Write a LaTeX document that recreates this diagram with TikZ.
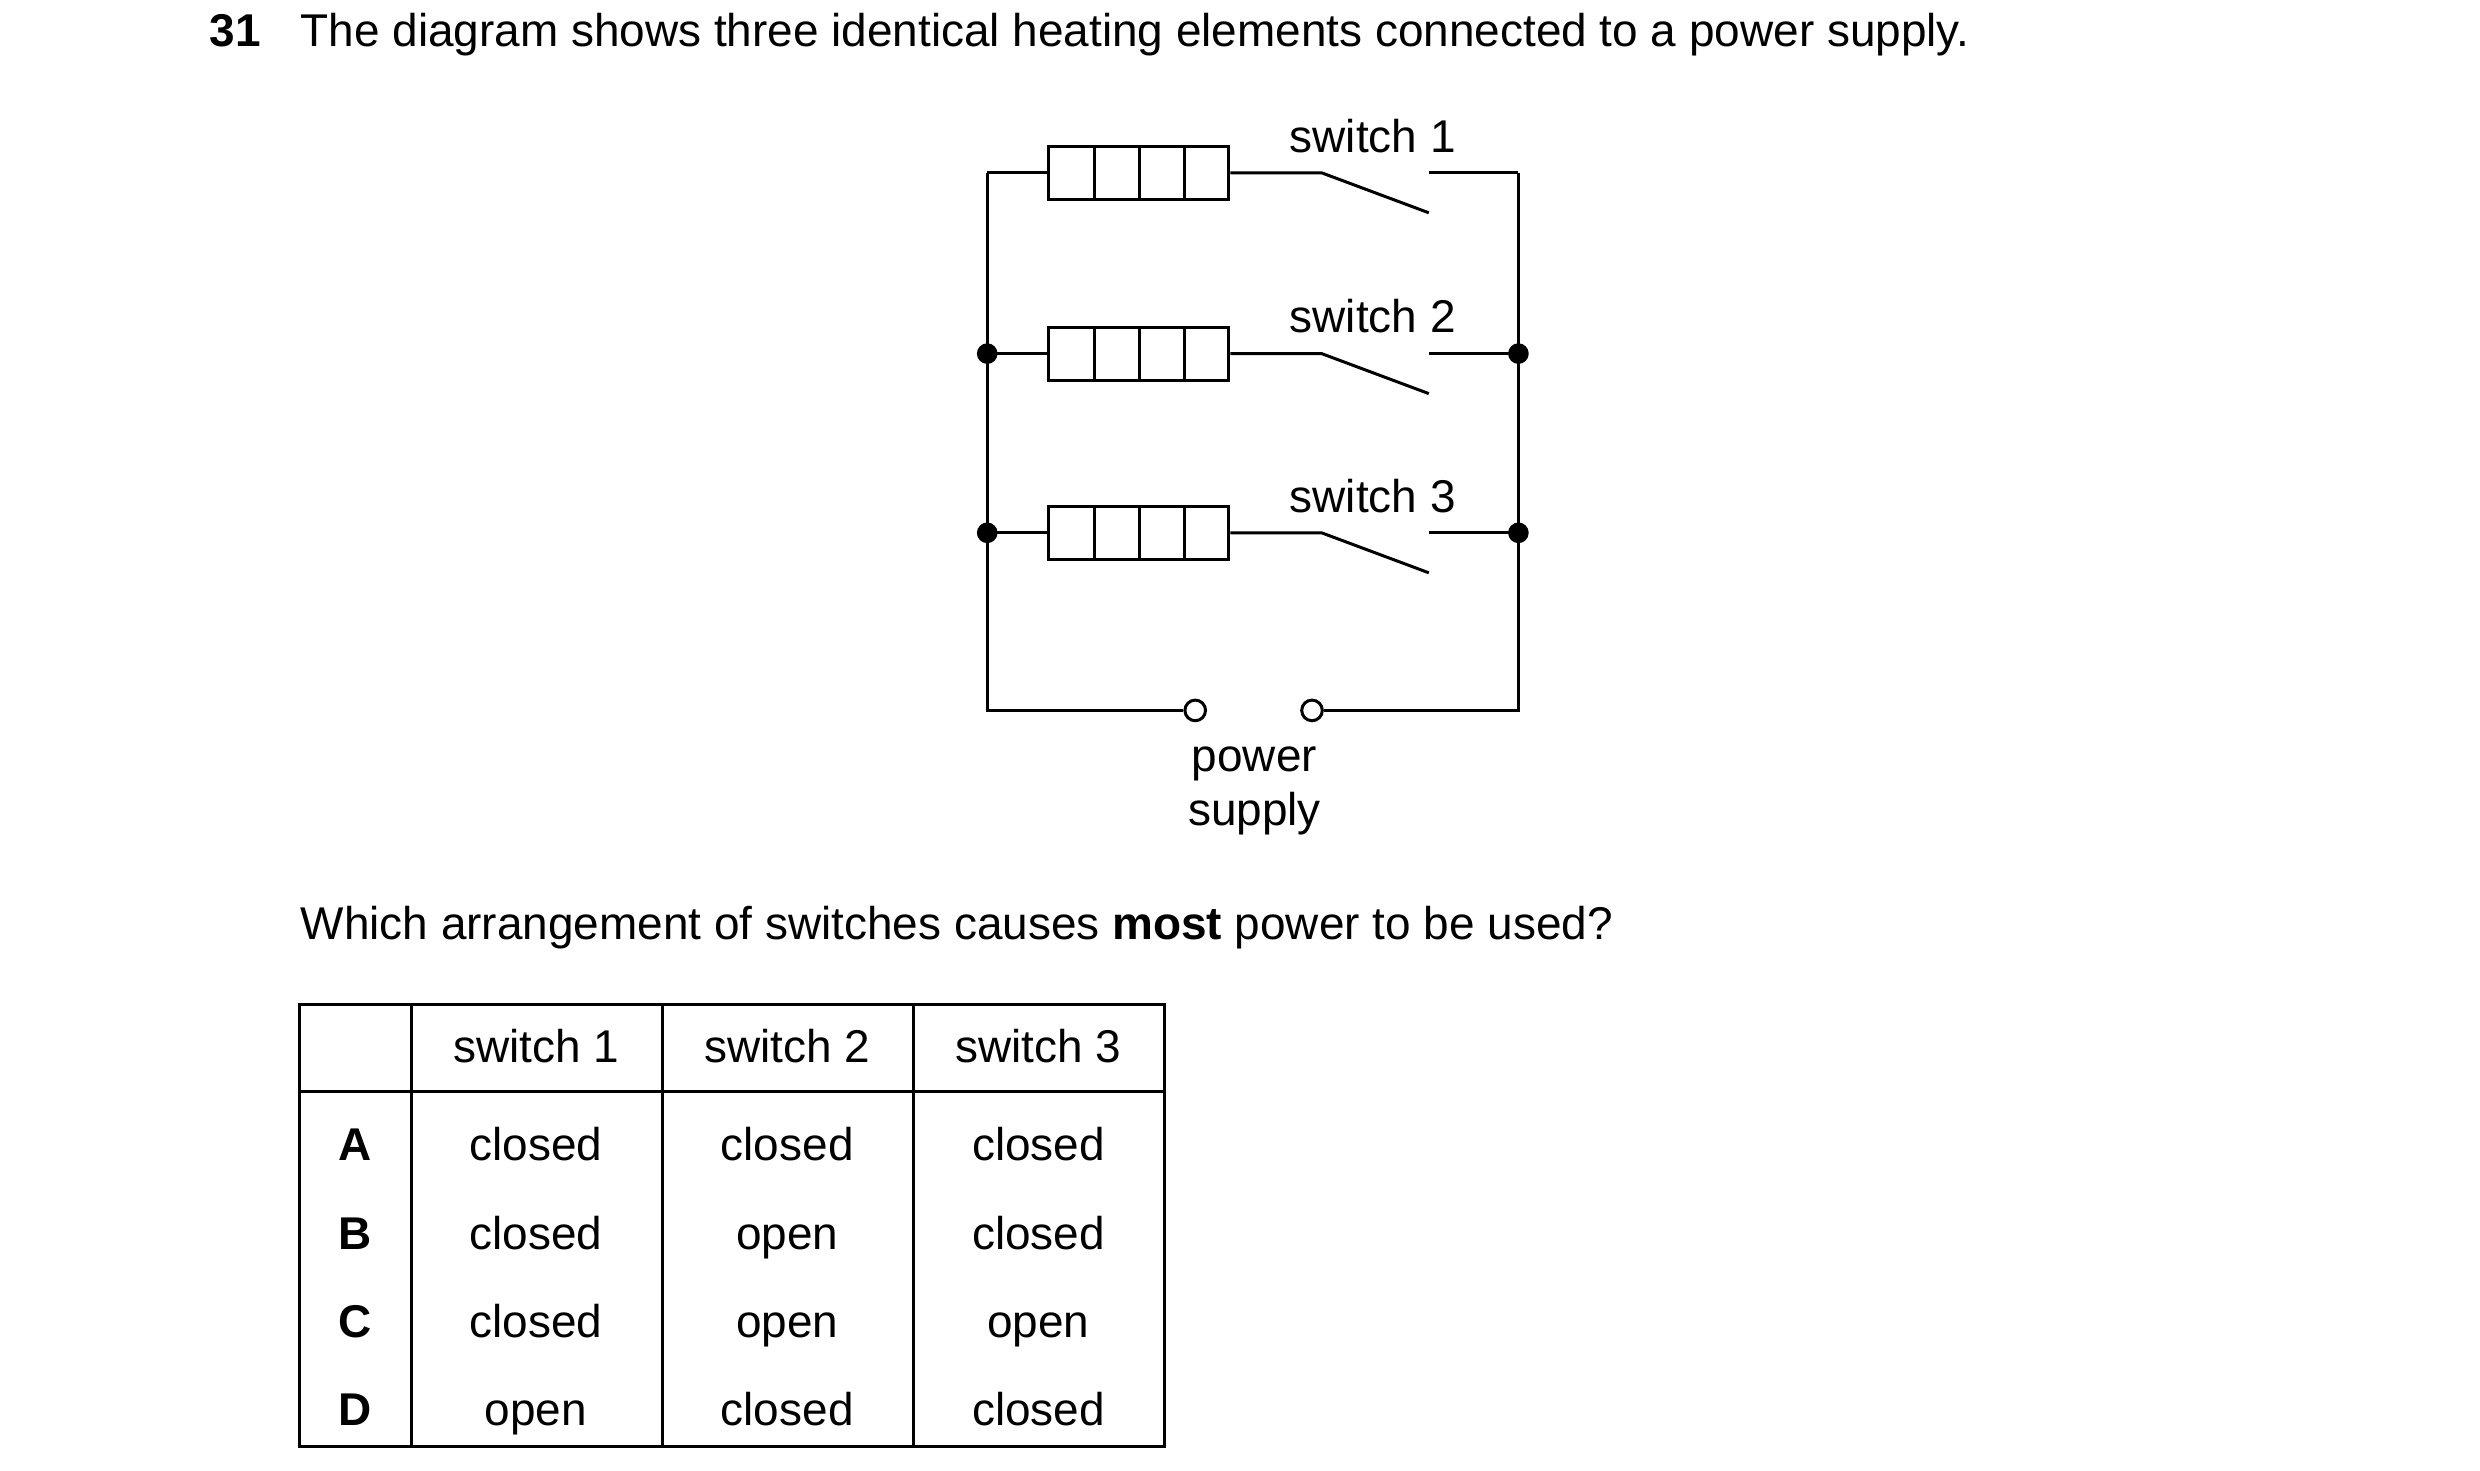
\documentclass[tikz,border=0pt]{standalone}
\usepackage{fontspec}
\setmainfont{Liberation Sans}
\begin{document}
\begin{tikzpicture}[x=0.03cm,y=-0.03cm,line width=1.6pt,
  txt/.style={font=\fontsize{24.5}{29}\selectfont,inner sep=0pt,anchor=base},
  dot/.style={circle,fill=black,inner sep=0pt,minimum size=11pt},
  term/.style={circle,draw,fill=white,inner sep=0pt,minimum size=11pt},
  res/.style={draw,minimum width=113*0.03cm,minimum height=33*0.03cm,inner sep=0pt}]
\useasboundingbox (0,0) rectangle (1550,919);
\node[txt,font=\fontsize{24.5}{29}\selectfont\bfseries,anchor=base west] (num) at (130,29) {31};
\node[txt,anchor=base west] (title) at (187,29) {The diagram shows three identical heating elements connected to a power supply.};
\foreach \i/\y in {1/108,2/221,3/333}{
  \node[res] (r\i) at (711.5,\y) {};
  \draw (684,\y-16.5) -- (684,\y+16.5) (712,\y-16.5) -- (712,\y+16.5) (740,\y-16.5) -- (740,\y+16.5);
  \coordinate (sa\i) at (826,\y);
  \coordinate (sb\i) at (893,\y+25);
  \coordinate (sc\i) at (893,\y);
  \coordinate (L\i) at (617,\y);
  \coordinate (R\i) at (949,\y);
  \draw (r\i.east) -- (sa\i) -- (sb\i);
  \draw (sc\i) -- (R\i);
  \draw (L\i) -- (r\i.west);
  \node[txt] (sw\i) at (858,\y-13) {switch \i};
}
\coordinate (BL) at (617,444);
\coordinate (BR) at (949,444);
\node[term] (t1) at (747,444) {};
\node[term] (t2) at (820,444) {};
\draw (L1) -- (BL) -- (t1);
\draw (R1) -- (BR) -- (t2);
\node[dot] at (L2) {};\node[dot] at (L3) {};
\node[dot] at (R2) {};\node[dot] at (R3) {};
\node[txt] (pw) at (784,482) {power};
\node[txt] (ps) at (784,516) {supply};
\node[txt,anchor=base west] (q) at (187,587) {Which arrangement of switches causes \textbf{most} power to be used?};
\draw (187,628) rectangle (728,904);
\draw (187,682) -- (728,682);
\foreach \x in {257,414,571} \draw (\x,628) -- (\x,904);
\node[txt] at (335,664) {switch 1};
\node[txt] at (492,664) {switch 2};
\node[txt] at (649,664) {switch 3};
\foreach \l/\a/\b/\c/\y in {A/closed/closed/closed/725,B/closed/open/closed/781,C/closed/open/open/836,D/open/closed/closed/891}{
  \node[txt,font=\fontsize{24.5}{29}\selectfont\bfseries] at (222,\y) {\l};
  \node[txt] at (335,\y) {\a};
  \node[txt] at (492,\y) {\b};
  \node[txt] at (649,\y) {\c};
}
\end{tikzpicture}
\end{document}
